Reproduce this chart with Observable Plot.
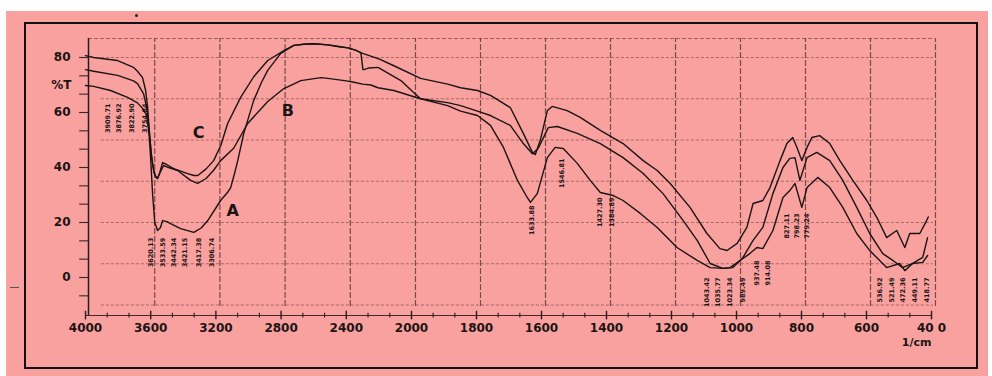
<!DOCTYPE html>
<html><head><meta charset="utf-8">
<script src="https://cdn.jsdelivr.net/npm/d3@7"></script>
<script src="https://cdn.jsdelivr.net/npm/@observablehq/plot@0.6"></script>
<style>
html,body{margin:0;padding:0;background:#fff;}
#wrap{position:relative;width:992px;height:376px;overflow:hidden;}
#bg{position:absolute;left:6px;top:11px;width:982px;height:365px;background:#f9a19f;}
#frame{position:absolute;box-sizing:border-box;left:24px;top:22px;width:954px;height:347px;border:2.5px solid #141010;}
#dot{position:absolute;left:135px;top:14px;width:3px;height:3px;border-radius:2px;background:#222;}
#dash{position:absolute;left:10px;top:287px;width:9px;height:1px;background:#555;}
#chart{position:absolute;left:0;top:0;}
</style></head><body>
<div id="wrap"><div id="bg"></div><div id="frame"></div><div id="dot"></div><div id="dash"></div><div id="chart"></div></div>
<script>
// ---- axis ticks ----
const xTicks = [4000,3600,3200,2800,2400,2000,1800,1600,1400,1200,1000,800,600,400];
const xTickLabels = ["4000","3600","3200","2800","2400","2000","1800","1600","1400","1200","1000","800","600","40 0"];
const yTicks = [0,20,40,60,80];
const yTickLabels = ["0","20","40","60","80"];
const gridY = [80,65,50,35,20,5,-10];

// ---- spectra: [wavenumber (1/cm), %T] ----
const seriesA = [
[4000,69.8],[3950,69.5],[3846,68],[3742,65.5],[3681,63.5],[3650,61.5],[3625,59],[3610,52],[3601,44],[3588,30],[3575,20],[3558,17.1],
[3540,18.2],[3527,20.7],[3500,20.3],[3478,19.6],[3416,17.8],[3336,16.4],[3290,18],[3250,20.7],[3171,28],[3128,31],[3109,32.7],[3085,38],
[3066,42.5],[3029,52.4],[2968,64.4],[2920,71],[2882,75.3],[2802,81.5],[2722,84.4],[2661,84.8],[2600,85],[2513,84.6],[2450,84],[2390,83.5],
[2340,82.6],[2320,82],[2310,81.5],[2298,75.6],[2292,75.6],[2260,76.2],[2206,76.4],[2150,74.5],[2065,71.6],[2000,68],[1972,65],[1889,62.5],
[1849,60.5],[1797,58.9],[1757,55.3],[1717,47.3],[1674,35.3],[1644,29.1],[1634,27.3],[1613,30.5],[1582,43.6],[1558,47.3],[1533,46.9],
[1490,41.5],[1450,35.3],[1419,30.9],[1379,29.8],[1349,28],[1296,23.3],[1244,18.2],[1183,10.9],[1121,6.2],[1081,3.6],[1042,3.3],[1020,3.6],
[989,6.2],[959,8.7],[937,10.9],[919,10.5],[888,17.1],[857,29.1],[836,31.6],[820,34.2],[799,25.5],[783,32.7],[750,36.4],[713,32.7],
[673,25.5],[630,16],[590,9.8],[538,3.6],[498,5.1],[482,2.5],[458,5.1],[427,5.5],[412,8]
];
const seriesB = [
[4000,75.6],[3950,75],[3803,73.5],[3705,71.5],[3681,70.5],[3644,66.9],[3625,62],[3610,54],[3598,46],[3585,40],[3570,36.5],[3558,36],
[3540,38.5],[3521,40.7],[3490,40],[3435,38.9],[3355,35.3],[3312,34.2],[3260,36],[3214,39],[3171,42.5],[3091,47],[3005,56],[2882,64],
[2783,68.7],[2679,71.6],[2556,72.7],[2513,72.4],[2400,71.5],[2353,71],[2300,70.3],[2249,70],[2206,69],[2108,68],[2000,66],[1972,65],
[1889,63.6],[1849,62.5],[1797,60.5],[1757,58.9],[1696,55.3],[1656,48.7],[1628,45],[1610,47],[1579,54.5],[1551,54.9],[1490,52.4],
[1419,48.7],[1349,43.6],[1287,37.8],[1226,30.5],[1164,20.7],[1121,13.5],[1081,5.1],[1042,3.3],[1011,3.6],[980,7.3],[949,13.5],[919,18.2],
[888,30.5],[857,40],[836,43.3],[820,43.6],[805,35.3],[783,43.6],[753,45.5],[713,42.5],[673,35.3],[630,25.5],[590,16],[550,8.7],
[519,6.2],[489,3.6],[458,5.1],[427,7.3],[412,14.5]
];
const seriesC = [
[4000,80.7],[3950,80],[3803,78.9],[3705,76.4],[3681,75],[3650,72.7],[3631,68],[3619,62],[3607,52],[3595,44],[3580,38],[3565,36.5],
[3558,36],[3545,38],[3527,41.8],[3500,41],[3459,39.6],[3373,37.8],[3336,37.1],[3311,37.1],[3260,39.5],[3214,42.5],[3170,48],[3128,56],
[3048,65.5],[2968,73],[2882,78.9],[2783,82.5],[2722,84.4],[2661,84.8],[2600,85],[2513,84.6],[2450,84],[2390,83.5],[2340,82.6],
[2320,82],[2300,81.5],[2200,79.5],[2108,77],[1972,72.4],[1889,70.3],[1849,69],[1797,68],[1757,66.2],[1696,61.8],[1656,52.4],[1628,45.5],
[1619,44.7],[1604,49.8],[1582,60.7],[1567,62.2],[1521,60.7],[1481,58.2],[1419,53.5],[1349,48.7],[1287,42.5],[1244,38.9],[1204,34.2],
[1143,25.5],[1091,16],[1051,10.5],[1029,9.8],[998,12.4],[968,18.2],[949,26.9],[919,28],[897,32.7],[866,42.5],[845,48.7],[827,50.9],
[814,47.3],[799,42.5],[783,47.3],[768,50.9],[744,51.6],[713,48.7],[682,42.5],[642,35.3],[599,28],[568,21.8],[538,14.5],[507,17.1],
[482,10.9],[467,16],[436,16],[415,20.7],[410,22]
];

// ---- curve letters ----
const curveNames = ["A","B","C"];
const curveLabelWn = [3097,2759,3306];
const curveLabelT = [24.4,60.7,52.7];

// ---- peak annotations ----
const peakText = ["3909.71","3876.92","3822.90","3754.84",
  "3620.13","3533.59","3442.34","3421.15","3417.38","3306.74",
  "1633.88","1546.81","1427.30","1384.89",
  "1043.42","1035.77","1023.34","989.49","937.48","914.08",
  "827.11","798.23","779.24",
  "536.92","521.49","472.36","449.11","418.77"];
const peakWn = [3865,3797,3717,3637, 3601,3527,3459,3392,3306,3226, 1628,1536,1419,1383,
  1091,1057,1020,980,937,903, 845,814,783, 559,522,489,452,415];
const peakT = [63.3,63.3,63.3,63.3, 14.5,14.5,14.5,14.5,14.5,14.5, 26.2,43.3,29.1,29.1,
  0,0,0,0,6.2,6.2, 23.3,23.3,23.3, 0,0,0,0,0];

// ---- build tables ----
const curves = [];
[["A",seriesA],["B",seriesB],["C",seriesC]].forEach(([s,arr]) => arr.forEach(([wn,t]) => curves.push({s, wn, t})));
const xMinor = [];
for (let i = 0; i < xTicks.length - 1; i++) {
  const a = xTicks[i], b = xTicks[i+1];
  xMinor.push(a + (b - a) / 3, a + 2 * (b - a) / 3);
}
const yMinor = [];
for (let k = -1; k <= 12; k++) yMinor.push(k * 20 / 3);

const ink = "#1b1414";
const chart = Plot.plot({
  width: 992, height: 376,
  marginTop: 0, marginRight: 0, marginBottom: 0, marginLeft: 0,
  x: {type: "linear", domain: [4000, 2000, 400], range: [85, 411, 931], axis: null},
  y: {type: "linear", domain: [0, 80], range: [277, 57], axis: null},
  style: {background: "transparent", fontFamily: "DejaVu Sans, sans-serif", color: ink, overflow: "visible"},
  marks: [
    Plot.ruleY(gridY, {x1: 3915, x2: 400, dx: 2, stroke: "#7a4646", strokeWidth: 0.9, strokeDasharray: "3,2", strokeOpacity: 0.7}),
    Plot.ruleY([86.9], {x1: 4000, x2: 400, dx: 3, stroke: "#6a3c3c", strokeWidth: 0.9, strokeDasharray: "4,2", strokeOpacity: 0.7}),
    Plot.ruleX(xTicks.slice(1), {y1: -10.5, y2: 86.9, dx: 4, stroke: "#5a3434", strokeWidth: 1.2, strokeDasharray: "6,2", strokeOpacity: 0.8}),
    Plot.ruleX([4000], {y1: -13.8, y2: 86.9, dx: 3, stroke: "#2a1a1a", strokeWidth: 1.5}),
    Plot.ruleY([-13.8], {x1: 4000, x2: 400, stroke: "#3e2828", strokeWidth: 1.1}),
    Plot.ruleX(xTicks, {y1: -12.3, y2: -15.4, stroke: "#2a1a1a", strokeWidth: 1.4}),
    Plot.ruleX(xMinor, {y1: -13.0, y2: -14.7, stroke: "#2a1a1a", strokeWidth: 1.1}),
    Plot.ruleY(yMinor, {x1: 4036, x2: 3982, stroke: "#3a2626", strokeWidth: 1.1}),
    Plot.text(xTicks, {x: d => d, y: -18.6, text: (d, i) => xTickLabels[i], fontSize: 12, fontWeight: "bold", fill: ink}),
    Plot.text(["1/cm"], {x: 400, y: -23.8, text: d => d, textAnchor: "end", fontSize: 11, fontWeight: "bold", fill: ink}),
    Plot.text(yTicks, {x: 4000, dx: -15, y: d => d, text: (d, i) => yTickLabels[i], textAnchor: "end", fontSize: 12, fontWeight: "bold", fill: ink}),
    Plot.text(["%T"], {x: 4000, dx: -14, y: 69.8, text: d => d, textAnchor: "end", fontSize: 12, fontWeight: "bold", fill: ink}),
    Plot.line(curves, {x: "wn", y: "t", z: "s", stroke: ink, strokeWidth: 1.4, strokeLinejoin: "round"}),
    Plot.text(peakText, {x: (d, i) => peakWn[i], y: (d, i) => peakT[i], text: d => d, rotate: -90, textAnchor: "end", fontSize: 6.5, fontWeight: "bold", fill: ink}),
    Plot.text(curveNames, {x: (d, i) => curveLabelWn[i], y: (d, i) => curveLabelT[i], text: d => d, fontSize: 16, fontWeight: "bold", fill: ink})
  ]
});
document.getElementById("chart").appendChild(chart);
</script>
</body></html>
